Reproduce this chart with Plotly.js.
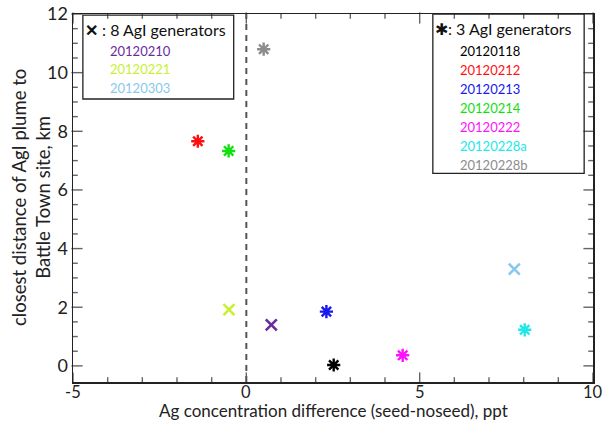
<!DOCTYPE html>
<html><head><meta charset="utf-8">
<script src="https://cdn.plot.ly/plotly-3.0.1.min.js"></script>
<style>body{margin:0;background:#fff}#c{width:608px;height:423px}</style>
</head><body><div id="c"></div>
<script>
// 8 AgI generators (X markers)
const xDates = ["20120210", "20120221", "20120303"];
const xAgDiff = [0.72, -0.50, 7.73];
const xDist = [1.40, 1.92, 3.30];
const xColors = ["#6a2aa0", "#c8f030", "#88c8ec"];

// 3 AgI generators (star markers)
const sDates = ["20120118", "20120212", "20120213", "20120214", "20120222", "20120228a", "20120228b"];
const sAgDiff = [2.52, -1.40, 2.31, -0.51, 4.51, 8.03, 0.50];
const sDist = [0.03, 7.66, 1.85, 7.33, 0.36, 1.23, 10.80];
const sColors = ["#000000", "#ff1010", "#1818f0", "#10e010", "#ff10ff", "#20e8e8", "#8c8c8c"];

const xTicks = [-5, 0, 5, 10];
const xTickText = ["-5", "0", "5", "10"];
const yTicks = [0, 2, 4, 6, 8, 10, 12];

const FONT = "Lato, 'Open Sans', sans-serif";
const XR = [-5, 10], YR = [-0.55, 12];
const PW = 520, PH = 368; // plot area in px

// tick marks (inside, mirrored) drawn as line markers at the tick positions
const yPerPx = (YR[1]-YR[0]) / PH, xPerPx = (XR[1]-XR[0]) / PW;
const xtX = [], xtY = [], xtS = [];
for (let v = XR[0]; v <= XR[1]; v += 1) {
  const len = (Math.abs(v) % 5 === 0) ? 8 : 4;
  xtX.push(v, v); xtY.push(YR[0] + len/2*yPerPx, YR[1] - len/2*yPerPx); xtS.push(len, len);
}
const ytX = [], ytY = [], ytS = [];
for (let v = 0; v <= 12; v += 0.5) {
  const len = (v % 2 === 0) ? 8 : 4;
  ytY.push(v, v); ytX.push(XR[0] + len/2*xPerPx, XR[1] - len/2*xPerPx); ytS.push(len, len);
}

const traces = [
  {type:"scatter", mode:"markers", x:xtX, y:xtY, cliponaxis:false, hoverinfo:"skip",
   marker:{symbol:"line-ns-open", size:xtS, color:"#222", line:{width:1.4, color:"#222"}}},
  {type:"scatter", mode:"markers", x:ytX, y:ytY, cliponaxis:false, hoverinfo:"skip",
   marker:{symbol:"line-ew-open", size:ytS, color:"#222", line:{width:1.4, color:"#222"}}},
  {type:"scatter", mode:"markers", x:xAgDiff, y:xDist, cliponaxis:false,
   marker:{symbol:"x-thin-open", size:11, color:xColors, line:{width:2.6, color:xColors}}},
  {type:"scatter", mode:"markers", x:sAgDiff, y:sDist, cliponaxis:false,
   marker:{symbol:"asterisk-open", size:11, color:sColors, line:{width:2.4, color:sColors}}}
];

const annotations = [];
annotations.push({xref:"paper", yref:"paper", x:0.0192, y:0.958, xanchor:"left", yanchor:"middle",
  text:"<b>✕</b> : 8 AgI generators", showarrow:false, font:{family:FONT, size:16, color:"#111"}});
xDates.forEach((d,i)=>annotations.push({xref:"paper", yref:"paper", x:0.067, y:0.956-0.0505*(i+1)-0.0055, xanchor:"left", yanchor:"middle",
  text:d, showarrow:false, font:{family:FONT, size:13, color:xColors[i]}}));
annotations.push({xref:"paper", yref:"paper", x:0.692, y:0.961, xanchor:"left", yanchor:"middle",
  text:"✱: 3 AgI generators", showarrow:false, font:{family:FONT, size:16, color:"#111"}});
sDates.forEach((d,i)=>annotations.push({xref:"paper", yref:"paper", x:0.74, y:0.9-0.0515*i, xanchor:"left", yanchor:"middle",
  text:d, showarrow:false, font:{family:FONT, size:13, color:sColors[i]}}));
// x tick labels
xTicks.forEach((t,i)=>annotations.push({xref:"x", yref:"paper", x:t, y:0, xanchor:"center", yanchor:"top", yshift:2,
  text:xTickText[i], showarrow:false, font:{family:FONT, size:16.5, color:"#222"}}));
// axis titles
annotations.push({xref:"paper", yref:"paper", x:0.5, y:0, xanchor:"center", yanchor:"bottom", yshift:-41,
  text:"Ag concentration difference (seed-noseed), ppt", showarrow:false, font:{family:FONT, size:17, color:"#222"}});
annotations.push({xref:"paper", yref:"paper", x:0, y:0.5, xanchor:"right", yanchor:"middle", xshift:-17, textangle:-90,
  text:"closest distance of AgI plume to<br>Battle Town site, km", showarrow:false, font:{family:FONT, size:18.5, color:"#222"}});

const shapes = [
  {type:"line", xref:"x", yref:"paper", x0:0, x1:0, y0:0, y1:1, line:{color:"#555", width:2, dash:"6px,5px"}},
  {type:"rect", xref:"paper", yref:"paper", x0:0.019, x1:0.309, y0:0.769, y1:0.997, line:{color:"#222", width:1.3}, fillcolor:"rgba(0,0,0,0)"},
  {type:"rect", xref:"paper", yref:"paper", x0:0.692, x1:0.983, y0:0.567, y1:1.0, line:{color:"#222", width:1.3}, fillcolor:"rgba(0,0,0,0)"}
];

const layout = {
  width:608, height:423, paper_bgcolor:"#fff", plot_bgcolor:"#fff",
  margin:{l:73, r:15, t:14, b:41}, showlegend:false,
  xaxis:{range:XR, showticklabels:false, ticks:"",
    showgrid:false, zeroline:false, showline:true, linecolor:"#222", linewidth:1.5, mirror:true},
  yaxis:{range:YR, tickmode:"array", tickvals:yTicks,
    showgrid:false, zeroline:false, showline:true, linecolor:"#222", linewidth:1.5, mirror:true,
    ticks:"", tickfont:{family:FONT, size:18, color:"#222"}},
  annotations, shapes
};
Plotly.newPlot("c", traces, layout, {staticPlot:true});
</script></body></html>
